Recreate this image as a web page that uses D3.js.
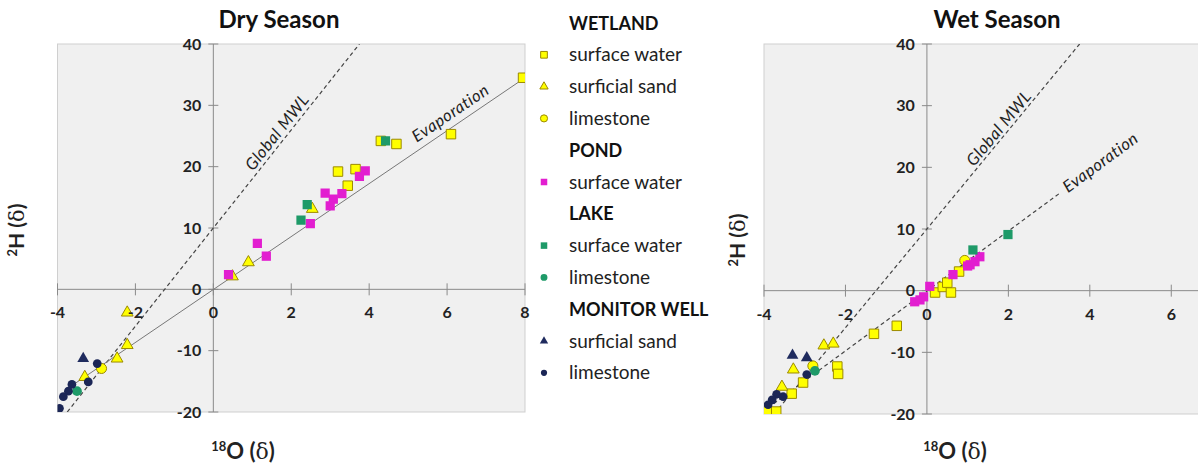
<!DOCTYPE html>
<html>
<head>
<meta charset="utf-8">
<script src="https://cdn.jsdelivr.net/npm/d3@7"></script>
<style>
  body { margin: 0; background: #fff; }
  svg { font-family: Lato, "Open Sans", sans-serif; }
</style>
</head>
<body>
<svg id="chart" width="1198" height="465"></svg>
<script>
// tick labels
const yTicks = [-20, -10, 0, 10, 20, 30, 40];
const dryXTicks = [-4, -2, 0, 2, 4, 6, 8];
const wetXTicks = [-4, -2, 0, 2, 4, 6];

// dry season, [18O, 2H]
const dryWetlandSurface = [[7.95, 34.5], [6.1, 25.3], [4.3, 24.2], [4.7, 23.7], [3.2, 19.2], [3.65, 19.6], [3.45, 16.9]];
const dryWetlandSand = [[2.54, 13.1], [0.9, 4.4], [0.49, 2.1], [-2.21, -3.8], [-2.21, -9.1], [-2.47, -11.3], [-3.3, -14.3]];
const dryWetlandLime = [[-2.87, -12.9]];
const dryPondSurface = [[3.9, 19.3], [3.75, 18.4], [2.87, 15.7], [3.3, 15.6], [3.08, 14.7], [3.0, 13.6], [2.49, 10.7], [1.13, 7.5], [1.36, 5.4], [0.39, 2.4]];
const dryLakeSurface = [[4.42, 24.2], [2.41, 13.8], [2.25, 11.3]];
const dryLakeLime = [[-3.5, -16.6]];
const dryWellSand = [[-3.34, -11.3]];
const dryWellLime = [[-2.98, -12.1], [-3.21, -15.1], [-3.63, -15.5], [-3.72, -16.6], [-3.85, -17.5], [-3.95, -19.4]];

// wet season
const wetWetlandSurface = [[-0.74, -5.7], [-1.3, -7.0], [-2.2, -12.3], [-2.18, -13.5], [-3.04, -14.9], [-3.32, -16.7], [-3.93, -19.6], [-3.7, -19.6], [0.2, -0.3], [0.39, 0.6], [0.5, 1.3], [0.59, -0.3], [0.79, 3.1]];
const wetWetlandSand = [[-2.53, -8.9], [-2.3, -8.6], [-3.28, -12.8], [-3.56, -15.6]];
const wetWetlandLime = [[-2.8, -12.2], [0.93, 4.9]];
const wetPondSurface = [[-0.3, -1.8], [-0.17, -1.5], [-0.08, -1.0], [0.07, 0.7], [0.64, 2.6], [1.0, 4.0], [1.06, 4.2], [1.18, 4.7], [1.3, 5.5]];
const wetLakeSurface = [[1.13, 6.6], [1.99, 9.1]];
const wetLakeLime = [[-2.75, -13.0]];
const wetWellSand = [[-3.3, -10.5], [-2.95, -10.9]];
const wetWellLime = [[-2.95, -13.6], [-3.69, -16.8], [-3.53, -17.2], [-3.8, -17.7], [-3.9, -18.5]];

// reference lines (end points)
const dryMWL = [[-3.75, -20], [3.75, 40]];
const dryEvap = [[-3.7, -16], [8, 34.5]];
const wetMWL = [[-3.75, -20], [3.75, 40]];
const wetEvap = [[-3.9, -19], [3.26, 15.8]];

const legendRows = [
  {header: "WETLAND"},
  {key: "wsw", label: "surface water"},
  {key: "wsand", label: "surficial sand"},
  {key: "wlime", label: "limestone"},
  {header: "POND"},
  {key: "psw", label: "surface water"},
  {header: "LAKE"},
  {key: "lsw", label: "surface water"},
  {key: "llime", label: "limestone"},
  {header: "MONITOR WELL"},
  {key: "msand", label: "surficial sand"},
  {key: "mlime", label: "limestone"}
];

const styles = {
  wsw:   {shape: d3.symbolSquare,   size: 90, fill: "#ffff00", stroke: "#9c8a00"},
  wsand: {shape: d3.symbolTriangle, size: 60, fill: "#ffff00", stroke: "#9c8a00"},
  wlime: {shape: d3.symbolCircle,   size: 80, fill: "#ffff00", stroke: "#9c8a00"},
  psw:   {shape: d3.symbolSquare,   size: 85, fill: "#e21ed0", stroke: "none"},
  lsw:   {shape: d3.symbolSquare,   size: 85, fill: "#1e9a68", stroke: "none"},
  llime: {shape: d3.symbolCircle,   size: 75, fill: "#1e9a68", stroke: "none"},
  msand: {shape: d3.symbolTriangle, size: 60, fill: "#1f2b5e", stroke: "none"},
  mlime: {shape: d3.symbolCircle,   size: 60, fill: "#1b2656", stroke: "none"}
};

const svg = d3.select("#chart");

function drawPanel(p) {
  const x = d3.scaleLinear().domain(p.xDomain).range([p.left, p.right]);
  const y = d3.scaleLinear().domain([-20, 40]).range([p.bottom, p.top]);

  svg.append("text")
    .attr("x", p.titleX).attr("y", 28)
    .attr("text-anchor", "middle")
    .attr("font-size", 24).attr("font-weight", "bold").attr("fill", "#111")
    .text(p.title);

  svg.append("rect")
    .attr("x", p.left).attr("y", p.top)
    .attr("width", p.right - p.left).attr("height", p.bottom - p.top)
    .attr("fill", "#f0f0f0").attr("stroke", "#cfcfcf");

  const clipId = "clip-" + p.id;
  svg.append("clipPath").attr("id", clipId)
    .append("rect")
    .attr("x", p.left).attr("y", p.top)
    .attr("width", p.right - p.left).attr("height", p.bottom - p.top);

  // axes through zero
  const g = svg.append("g");
  g.append("line")
    .attr("x1", p.left).attr("x2", p.right)
    .attr("y1", y(0)).attr("y2", y(0))
    .attr("stroke", "#8a8a8a");
  g.append("line")
    .attr("x1", x(0)).attr("x2", x(0))
    .attr("y1", p.top).attr("y2", p.bottom)
    .attr("stroke", "#8a8a8a");

  g.selectAll(".xt").data(p.xTicks).join("line")
    .attr("x1", d => x(d)).attr("x2", d => x(d))
    .attr("y1", y(0) - 6).attr("y2", y(0) + 6)
    .attr("stroke", "#8a8a8a");
  g.selectAll(".yt").data(yTicks).join("line")
    .attr("x1", x(0) - 5).attr("x2", x(0) + 5)
    .attr("y1", d => y(d)).attr("y2", d => y(d))
    .attr("stroke", "#8a8a8a");

  // lines
  const line = d3.line().x(d => x(d[0])).y(d => y(d[1]));
  const lg = svg.append("g").attr("clip-path", `url(#${clipId})`);
  lg.append("path").attr("d", line(p.mwl))
    .attr("fill", "none").attr("stroke", "#444").attr("stroke-width", 1.2)
    .attr("stroke-dasharray", "4,3");
  lg.append("path").attr("d", line(p.evap))
    .attr("fill", "none").attr("stroke", p.evapDash ? "#444" : "#777")
    .attr("stroke-width", p.evapDash ? 1.2 : 1)
    .attr("stroke-dasharray", p.evapDash ? "4,3" : null);

  // line labels
  function lineLabel(pts, at, dy, txt) {
    const ang = Math.atan2(y(pts[0][1]) - y(pts[1][1]), x(pts[1][0]) - x(pts[0][0])) * 180 / Math.PI;
    const k = (pts[1][1] - pts[0][1]) / (pts[1][0] - pts[0][0]);
    const yv = pts[0][1] + k * (at - pts[0][0]);
    svg.append("text")
      .attr("transform", `translate(${x(at)},${y(yv)}) rotate(${-ang})`)
      .attr("dy", dy)
      .attr("text-anchor", "middle")
      .attr("font-size", 16.5).attr("font-style", "italic").attr("fill", "#222")
      .attr("letter-spacing", 0.6)
      .text(txt);
  }
  lineLabel(p.mwl, p.mwlAt, p.mwlDy, "Global  MWL");
  lineLabel(p.evap, p.evapAt, p.evapDy, "Evaporation");

  // points
  const pg = svg.append("g").attr("clip-path", `url(#${clipId})`);
  p.series.forEach(s => {
    const st = styles[s.key];
    pg.selectAll(null).data(s.data).join("path")
      .attr("transform", d => `translate(${x(d[0])},${y(d[1])})`)
      .attr("d", d3.symbol(st.shape, st.size))
      .attr("fill", st.fill).attr("stroke", st.stroke).attr("stroke-width", 1);
  });

  // tick labels
  svg.selectAll(null).data(p.xTicks).join("text")
    .attr("x", d => x(d)).attr("y", y(0) + 29)
    .attr("text-anchor", "middle")
    .attr("font-size", 16).attr("font-weight", "bold").attr("fill", "#222")
    .text(d => d);
  svg.selectAll(null).data(yTicks).join("text")
    .attr("x", x(0) - 12).attr("y", d => y(d) + 5.5)
    .attr("text-anchor", "end")
    .attr("font-size", 16).attr("font-weight", "bold").attr("fill", "#222")
    .text(d => d);

  // axis titles
  const yl = svg.append("text")
    .attr("transform", `translate(${p.ylabelX},${p.ylabelY}) rotate(-90)`)
    .attr("text-anchor", "middle")
    .attr("font-size", 21).attr("font-weight", "bold").attr("fill", "#222");
  yl.append("tspan").attr("font-size", 13).attr("dy", -7).text("2");
  yl.append("tspan").attr("dy", 7).text("H (");
  yl.append("tspan").attr("font-family", "DejaVu Serif").attr("font-weight", "normal").text("δ");
  yl.append("tspan").text(")");

  const xl = svg.append("text")
    .attr("x", p.xlabelX).attr("y", 459)
    .attr("text-anchor", "middle")
    .attr("font-size", 22).attr("font-weight", "bold").attr("fill", "#222");
  xl.append("tspan").attr("font-size", 13).attr("dy", -8).text("18");
  xl.append("tspan").attr("dy", 8).text("O (");
  xl.append("tspan").attr("font-family", "DejaVu Serif").attr("font-weight", "normal").text("δ");
  xl.append("tspan").text(")");
}

drawPanel({
  id: "dry", title: "Dry Season", titleX: 279,
  left: 57.5, right: 525, top: 44, bottom: 412,
  xDomain: [-4, 8], xTicks: dryXTicks,
  mwl: dryMWL, mwlAt: 1.83, mwlDy: -4,
  evap: dryEvap, evapAt: 6.27, evapDy: -7, evapDash: false,
  ylabelX: 24, ylabelY: 230, xlabelX: 243,
  series: [
    {key: "wsw", data: dryWetlandSurface},
    {key: "wsand", data: dryWetlandSand},
    {key: "wlime", data: dryWetlandLime},
    {key: "psw", data: dryPondSurface},
    {key: "lsw", data: dryLakeSurface},
    {key: "llime", data: dryLakeLime},
    {key: "msand", data: dryWellSand},
    {key: "mlime", data: dryWellLime}
  ]
});

drawPanel({
  id: "wet", title: "Wet Season", titleX: 997,
  left: 764, right: 1212, top: 44, bottom: 414,
  xDomain: [-4, 7], xTicks: wetXTicks,
  mwl: wetMWL, mwlAt: 1.93, mwlDy: -3,
  evap: wetEvap, evapAt: 4.27, evapDy: 5, evapDash: true,
  ylabelX: 745, ylabelY: 240, xlabelX: 955,
  series: [
    {key: "wsw", data: wetWetlandSurface},
    {key: "wsand", data: wetWetlandSand},
    {key: "wlime", data: wetWetlandLime},
    {key: "psw", data: wetPondSurface},
    {key: "lsw", data: wetLakeSurface},
    {key: "llime", data: wetLakeLime},
    {key: "msand", data: wetWellSand},
    {key: "mlime", data: wetWellLime}
  ]
});

// legend
const leg = svg.append("g");
legendRows.forEach((r, i) => {
  const cy = 23 + i * 31.8;
  if (r.header) {
    leg.append("text").attr("x", 569).attr("y", cy + 6.5)
      .attr("font-size", 18).attr("font-weight", "bold").attr("fill", "#111")
      .text(r.header);
  } else {
    const st = styles[r.key];
    leg.append("path")
      .attr("transform", `translate(544,${cy})`)
      .attr("d", d3.symbol(st.shape, st.size * 0.5))
      .attr("fill", st.fill).attr("stroke", st.stroke);
    leg.append("text").attr("x", 569).attr("y", cy + 6.5)
      .attr("font-size", 19).attr("fill", "#222")
      .text(r.label);
  }
});
</script>
</body>
</html>
